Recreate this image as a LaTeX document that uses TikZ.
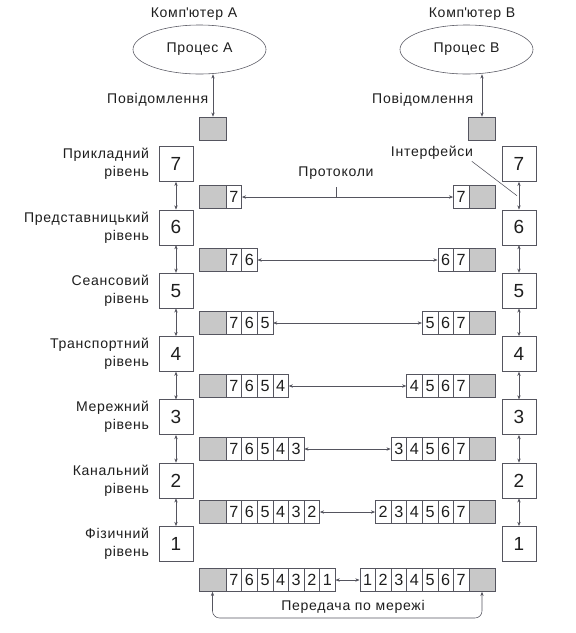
\documentclass[tikz,border=0pt]{standalone}
\usepackage{fontspec}
\setmainfont{Liberation Sans}
\newfontfamily\lblfont{Liberation Sans}[LetterSpace=5]
\usetikzlibrary{arrows.meta, shapes.geometric, positioning, calc}
\definecolor{LineGray}{RGB}{85,85,95}
\definecolor{BoxFill}{RGB}{200,200,200}
\definecolor{TextDark}{RGB}{30,30,30}

\begin{document}
\begin{tikzpicture}[x=0.025cm, y=-0.025cm,
    lay/.style={draw=LineGray, fill=white, minimum width=0.85cm,
                minimum height=0.875cm, inner sep=0pt,
                font=\fontsize{13.5}{15}\selectfont, text=TextDark},
    cell/.style={draw=LineGray, fill=white, minimum width=0.39cm,
                 minimum height=0.575cm, inner sep=0pt,
                 font=\fontsize{11.5}{13}\selectfont, text=TextDark},
    hdr/.style={cell, fill=BoxFill, minimum width=0.675cm},
    lbl/.style={font=\lblfont\fontsize{10}{12.8}\selectfont, text=TextDark,
                align=right, inner sep=1pt},
    proc/.style={ellipse, draw=LineGray, minimum width=3.325cm,
                 minimum height=1.225cm, font=\lblfont\fontsize{10}{12}\selectfont,
                 text=TextDark},
    arr/.style={{Stealth[length=3pt,width=2.4pt]}-{Stealth[length=3pt,width=2.4pt]},
                LineGray, thin}
  ]
  \useasboundingbox (0,0) rectangle (575,633);

  % processes and messages
  \node[proc] (procA) at (199.5,49.5) {Процес А};
  \node[proc] (procB) at (466.5,49.5) {Процес В};
  \node[lbl] (compA) at (194,14) {Комп\textquotesingle ютер А};
  \node[lbl] (compB) at (472,14) {Комп\textquotesingle ютер В};
  \node[hdr] (msgA) at (213,128.5) {};
  \node[hdr] (msgB) at (482,128.5) {};
  \draw[arr] (msgA |- procA.south) -- (msgA);
  \draw[arr] (msgB |- procB.south) -- (msgB);
  \node[lbl, anchor=east] (msgtA) at (210,100) {Повідомлення};
  \node[lbl, anchor=east] (msgtB) at (475,100) {Повідомлення};

  % layer stacks
  \foreach \n/\ly in {7/164,6/227.3,5/290.6,4/353.9,3/417.2,2/480.5,1/543.8}{
    \node[lay] (L\n) at (176,\ly) {\n};
    \node[lay] (R\n) at (519,\ly) {\n};
  }
  \foreach \a/\b in {7/6,6/5,5/4,4/3,3/2,2/1}{
    \draw[arr] (L\a) -- (L\b);
    \draw[arr] (R\a) -- (R\b);
  }
  \node[lbl, left=0.2cm of L7] (t7) {Прикладний\\рівень};
  \node[lbl, left=0.2cm of L6] (t6) {Представницький\\рівень};
  \node[lbl, left=0.2cm of L5] (t5) {Сеансовий\\рівень};
  \node[lbl, left=0.2cm of L4] (t4) {Транспортний\\рівень};
  \node[lbl, left=0.2cm of L3] (t3) {Мережний\\рівень};
  \node[lbl, left=0.2cm of L2] (t2) {Канальний\\рівень};
  \node[lbl, left=0.2cm of L1] (t1) {Фізичний\\рівень};

  % packets with headers
  \foreach \n/\py in {7/197,6/260,5/323,4/386,3/449,2/512,1/580}{
    \node[hdr] (pl\n) at (212.5,\py) {};
    \node[hdr] (pr\n) at (482,\py) {};
    \foreach \k in {7,...,\n}{
      \pgfmathsetmacro{\xl}{233.8+15.6*(7-\k)}
      \pgfmathsetmacro{\xr}{461.2-15.6*(7-\k)}
      \node[cell] (pl\n-\k) at (\xl,\py) {\k};
      \node[cell] (pr\n-\k) at (\xr,\py) {\k};
    }
    \draw[arr] (pl\n-\n) -- (pr\n-\n);
  }

  % protocols and interfaces
  \node[lbl] (prot) at (336,173) {Протоколи};
  \draw[LineGray] (prot |- pl7) -- ++(0,-10);
  \node[lbl] (ifc) at (432,153) {Інтерфейси};
  \coordinate (ifcpt) at ($(R7.south)!0.5!(R6.north)$);
  \draw[LineGray] ([xshift=-2pt]ifc.south east) -- ([xshift=-1.5pt]ifcpt);

  % network
  \coordinate (net) at (353,618);
  \draw[arr, rounded corners=5pt] (pl1.south) -- (pl1.south |- net)
    -- (pr1.south |- net) -- (pr1.south);
  \node[lbl] (nett) at (353,607) {Передача по мережі};
\end{tikzpicture}
\end{document}
